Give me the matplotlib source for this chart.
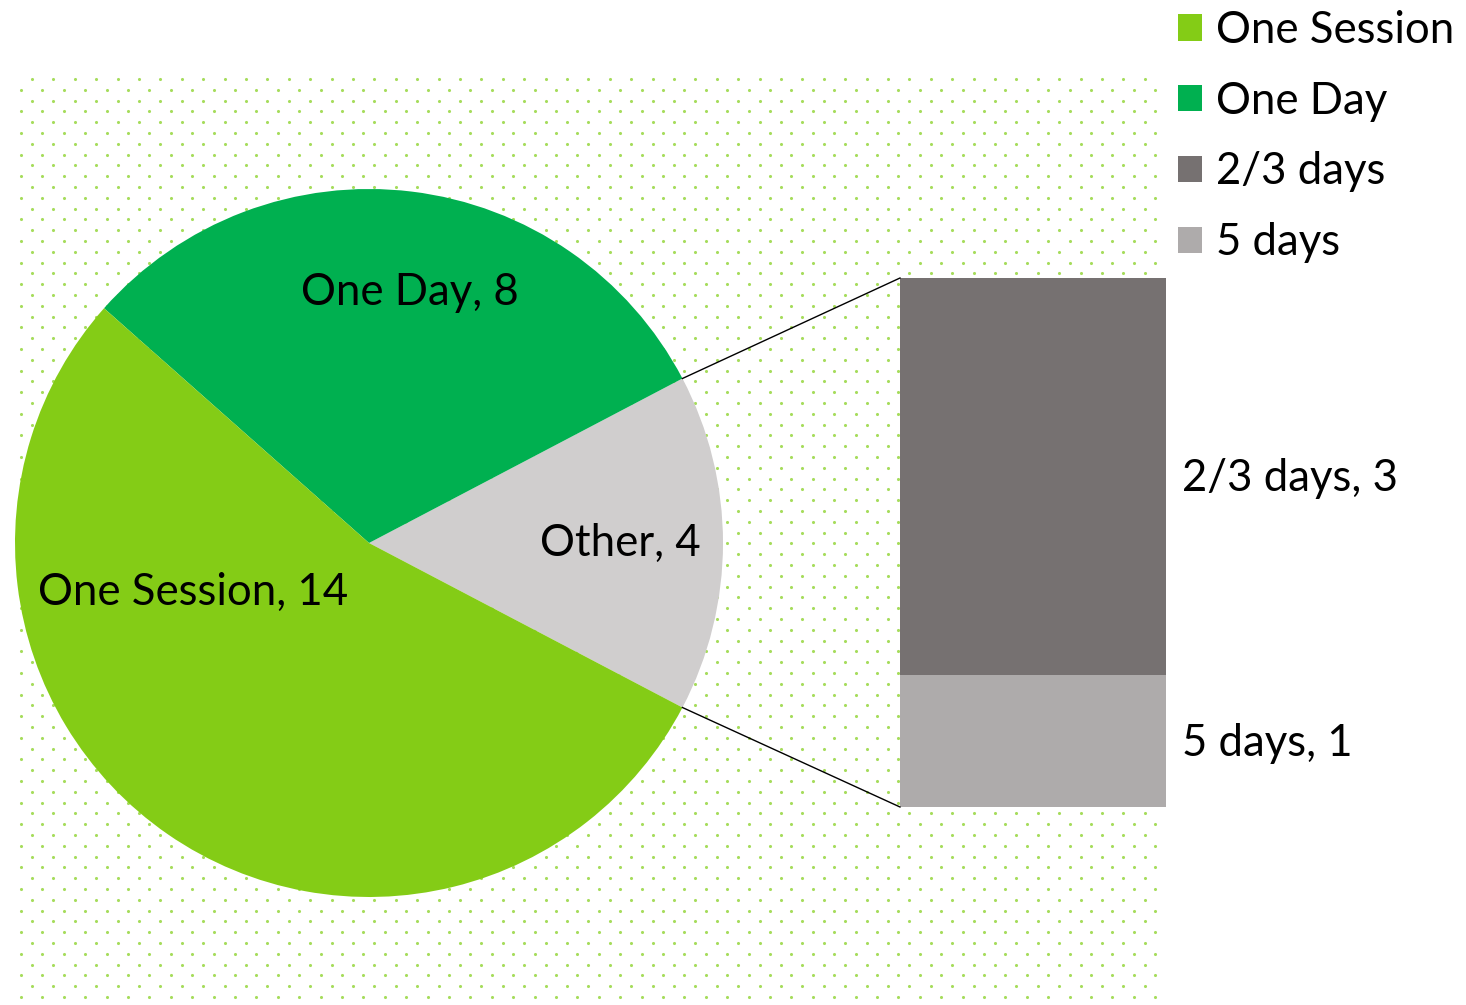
import numpy as np
import matplotlib
matplotlib.use("Agg")
import matplotlib.pyplot as plt
from matplotlib.patches import Patch

plt.rcParams['font.family'] = ['Lato', 'DejaVu Sans']

# data
pie_labels = ["Other", "One Day", "One Session"]
pie_values = [4, 8, 14]
pie_colors = ["#D0CECE", "#00B050", "#84CC16"]
bar_labels = ["5 days", "2/3 days"]
bar_values = [1, 3]
bar_colors = ["#AEABAB", "#767171"]
legend_labels = ["One Session", "One Day", "2/3 days", "5 days"]
legend_colors = ["#84CC16", "#00B050", "#767171", "#AEABAB"]

W, H = 1466, 1005
FS = 31.5
fig = plt.figure(figsize=(W / 100, H / 100), dpi=100)
ax = fig.add_axes([0, 0, 1, 1])

# pie
cx, cy, r = 369, H - 543, 354
total = sum(pie_values)
start = -pie_values[0] / total * 360 / 2
wedges, _ = ax.pie(pie_values, colors=pie_colors, startangle=start, counterclock=True,
                   center=(cx, cy), radius=r, frame=True,
                   wedgeprops=dict(linewidth=0, zorder=1))
ax.set_xlim(0, W)
ax.set_ylim(0, H)
ax.set_aspect('equal')
ax.axis('off')

# dotted background pattern
xs, ys = [], []
row = 0
y = H - 79
while y > 0:
    x0 = 32 if row % 2 == 0 else 21
    for x in np.arange(x0, 1166, 21.4):
        xs.append(x); ys.append(y)
    y -= 10.8
    row += 1
ax.scatter(xs, ys, s=5, color="#A6DC5C", linewidths=0, zorder=0)

label_pos = {"Other": (620, 543), "One Day": (410, 292), "One Session": (193, 592)}
for lab, v in zip(pie_labels, pie_values):
    px, py = label_pos[lab]
    ax.text(px, H - py, f"{lab}, {v}", fontsize=FS, ha='center', va='center', color='black', zorder=4)

# bar of pie
bx, bw = 900, 266
btop, bbot = H - 278, H - 807
unit = (btop - bbot) / sum(bar_values)
bottom = bbot
bar_label_y = {"5 days": 744, "2/3 days": 478}
for lab, v, c in zip(bar_labels, bar_values, bar_colors):
    ax.bar(bx, v * unit, width=bw, bottom=bottom, align='edge', color=c, linewidth=0, zorder=2)
    ax.text(1182, H - bar_label_y[lab], f"{lab}, {v}", fontsize=FS, ha='left', va='center')
    bottom += v * unit

# connector lines
a = np.deg2rad(start)
ax.plot([cx + r * np.cos(-a), bx], [cy + r * np.sin(-a), btop], color='black', lw=1, zorder=3)
ax.plot([cx + r * np.cos(a), bx], [cy + r * np.sin(a), bbot], color='black', lw=1, zorder=3)

# legend
handles = [Patch(facecolor=c, edgecolor='none') for c in legend_colors]
leg = ax.legend(handles, legend_labels, loc='upper left', bbox_to_anchor=(1178 / W, 1 - 10 / H),
                frameon=False, fontsize=FS, handlelength=0.54, handleheight=0.54,
                handletextpad=0.32, labelspacing=0.68, borderaxespad=0.0, borderpad=0.0)

fig.savefig("out.png", dpi=100, facecolor='white')
